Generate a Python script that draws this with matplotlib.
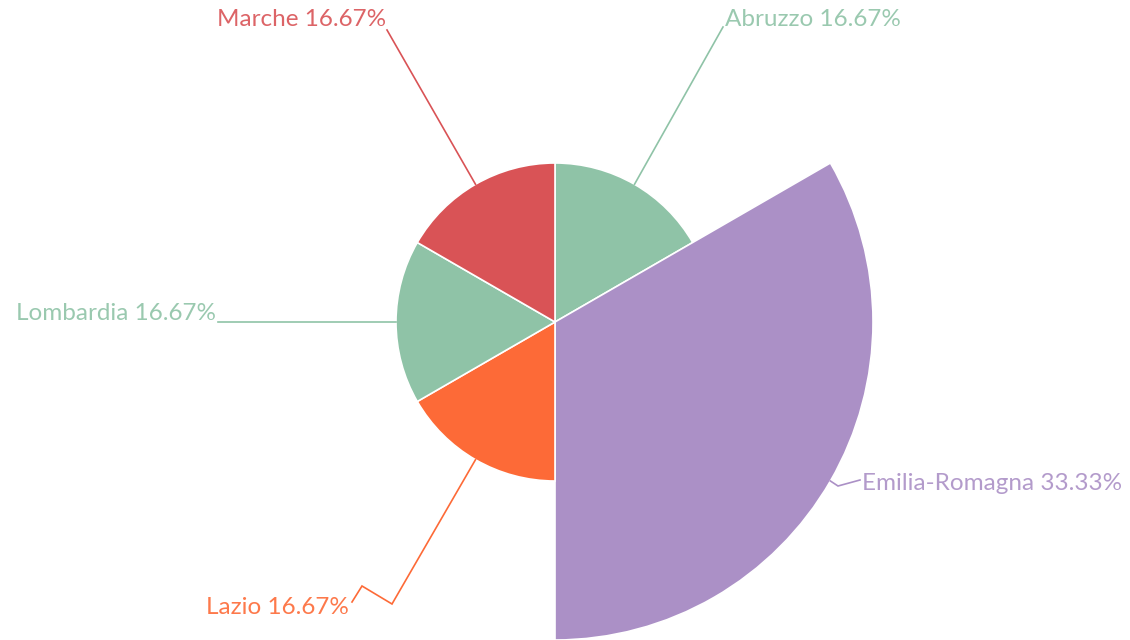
import numpy as np
import matplotlib.pyplot as plt
from matplotlib.patches import Wedge

# data
regions = ["Abruzzo", "Emilia-Romagna", "Lazio", "Lombardia", "Marche"]
counts = [1, 2, 1, 1, 1]
colors = ["#8fc3a7", "#ab90c6", "#fd6a37", "#8fc3a7", "#d95356"]

# layout (pixels, y up)
W, H = 1130, 640
cx, cy = 555, 640 - 322
rmax = 318

# leader line bends and text anchors for each label
bends = [
    [(723, 613)],
    [(838, 154), (860, 160)],
    [(392, 36), (362, 54), (352, 38)],
    [(218, 318)],
    [(387, 610)],
]
text_pos = [(725, 621, "left"), (862, 156, "left"), (349, 32, "right"),
            (216, 326, "right"), (386, 621, "right")]

fig = plt.figure(figsize=(W / 100, H / 100), dpi=100)
ax = fig.add_axes([0, 0, 1, 1])
ax.set_xlim(0, W)
ax.set_ylim(0, H)
ax.axis("off")

total = sum(counts)
vmax = max(counts)
start = 0.0
for i, (name, v) in enumerate(zip(regions, counts)):
    frac = v / total
    r = rmax * v / vmax
    t1 = 90 - (start + frac) * 360
    t2 = 90 - start * 360
    ax.add_patch(Wedge((cx, cy), r, t1, t2, facecolor=colors[i],
                       edgecolor="white", linewidth=1.2))
    mid = np.deg2rad((t1 + t2) / 2)
    ex, ey = cx + r * np.cos(mid), cy + r * np.sin(mid)
    pts = [(ex, ey)] + bends[i]
    xs, ys = zip(*pts)
    ax.plot(xs, ys, color=colors[i], lw=1.2, solid_joinstyle="miter")
    tx, ty, ha = text_pos[i]
    ax.text(tx, ty, f"{name} {frac * 100:.2f}%", color=colors[i], alpha=0.9,
            ha=ha, va="center", fontsize=17.5, family="Lato")
    start += frac

fig.savefig("out.png", dpi=100)
